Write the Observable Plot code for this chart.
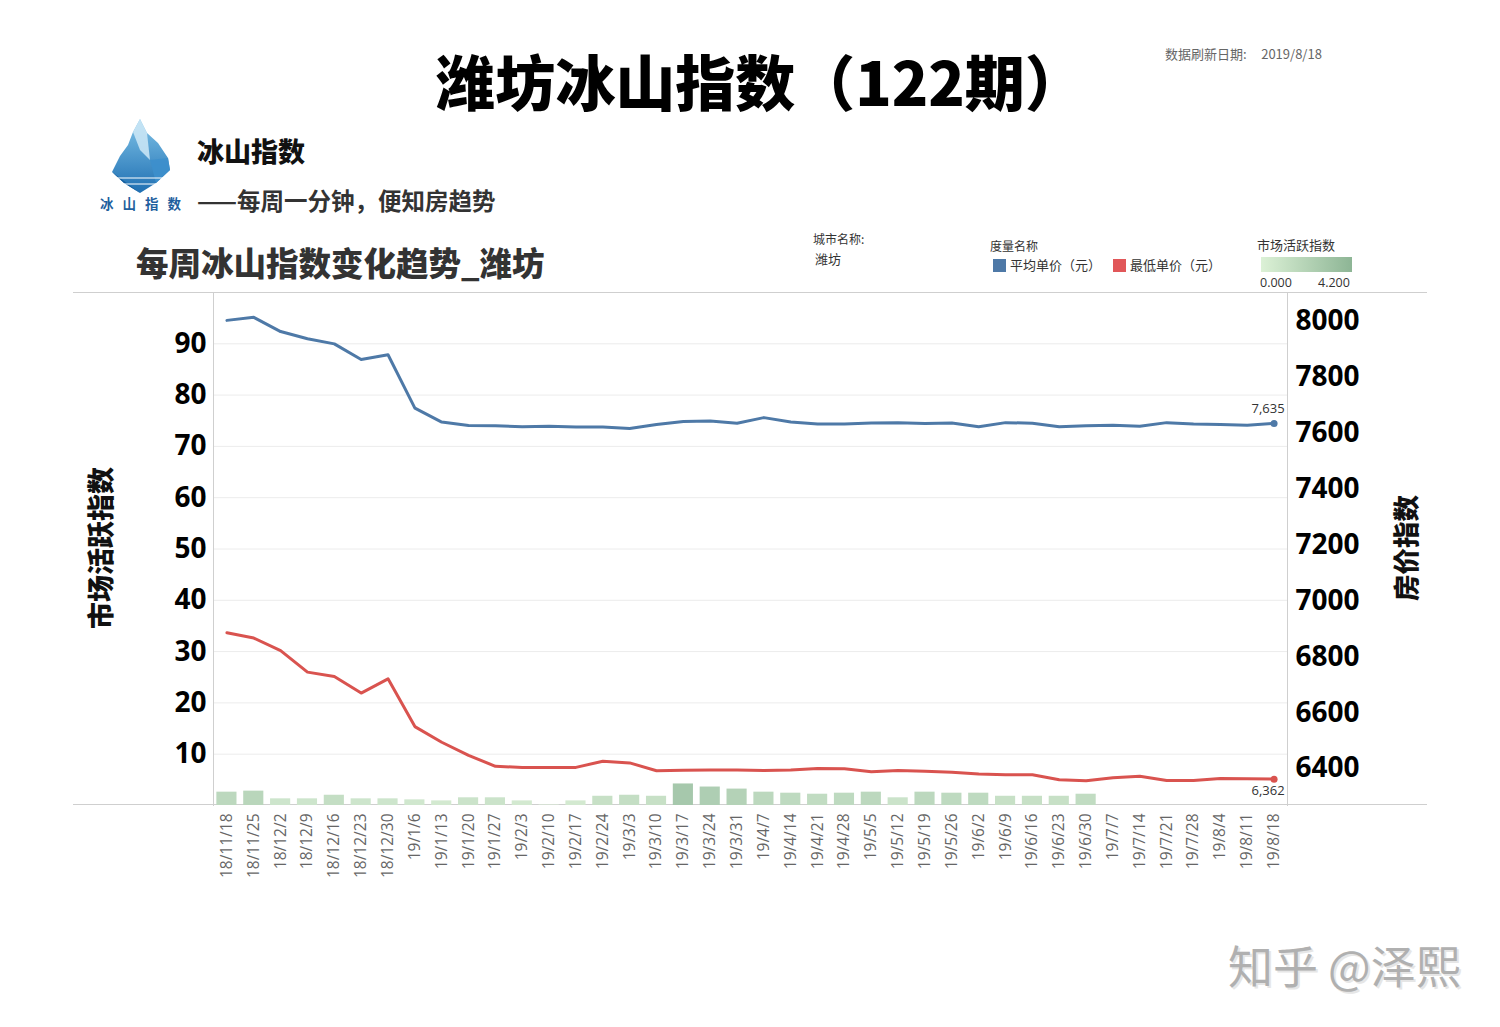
<!DOCTYPE html>
<html>
<head>
<meta charset="utf-8">
<script src="https://cdn.jsdelivr.net/npm/d3@7"></script>
<script src="https://cdn.jsdelivr.net/npm/@observablehq/plot@0.6"></script>
<style>
  html, body { margin: 0; padding: 0; background: #fff; }
  body { width: 1500px; height: 1027px; position: relative; overflow: hidden; font-family: "Noto Sans CJK SC", "Noto Sans", sans-serif; }
  .abs { position: absolute; white-space: nowrap; }
  #chart { position: absolute; left: 0; top: 0; }
</style>
</head>
<body>
<div class="abs" style="left:10px;width:1500px;top:44px;text-align:center;font-size:60px;font-weight:900;line-height:72px;color:#000;">潍坊冰山指数（122期）</div>
<div class="abs" style="left:1165px;top:45px;font-size:13px;color:#666;line-height:18px;">数据刷新日期:&nbsp;&nbsp;&nbsp;&nbsp;&nbsp;2019/8/18</div>

<svg class="abs" style="left:95px;top:112px;" width="100" height="110" viewBox="95 112 100 110">
  <defs>
    <linearGradient id="ice" x1="0" y1="0" x2="0" y2="1">
      <stop offset="0" stop-color="#7fc3e8"/>
      <stop offset="1" stop-color="#1f6fb2"/>
    </linearGradient>
  </defs>
  <polygon points="140,119 147,133 158,143 168,158 170,170 156,183 140,193 124,183 112,172 120,156 128,145 133,132" fill="url(#ice)"/>
  <polygon points="140,119 147,133 150,160 140,150 133,132" fill="#cfe9f7" opacity="0.85"/>
  <polygon points="150,160 168,158 170,170 156,183" fill="#3d8fcc" opacity="0.9"/>
  <polygon points="112,172 140,193 124,183" fill="#155f9e"/>
  <line x1="115" y1="178" x2="166" y2="178" stroke="#fff" stroke-width="1"/>
  <line x1="122" y1="184" x2="158" y2="184" stroke="#fff" stroke-width="1"/>
  <text x="145" y="209" text-anchor="middle" font-size="13.5" font-weight="700" fill="#1f5f9e" letter-spacing="9" font-family="Noto Sans CJK SC">冰山指数</text>
</svg>
<div class="abs" style="left:197px;top:133px;font-size:27px;font-weight:900;color:#111;line-height:36px;">冰山指数</div>
<div class="abs" style="left:197px;top:184px;font-size:23.5px;font-weight:700;color:#333;line-height:32px;">——每周一分钟，便知房趋势</div>

<div class="abs" style="left:136px;top:241px;font-size:32.5px;font-weight:900;color:#333;line-height:42px;">每周冰山指数变化趋势_潍坊</div>

<div class="abs" style="left:813px;top:231px;font-size:12px;color:#333;line-height:16px;">城市名称:</div>
<div class="abs" style="left:815px;top:250px;font-size:13px;color:#333;line-height:18px;">潍坊</div>

<div class="abs" style="left:990px;top:238px;font-size:12px;color:#333;line-height:16px;">度量名称</div>
<div class="abs" style="left:993px;top:259px;width:13px;height:13px;background:#4e79a7;"></div>
<div class="abs" style="left:1010px;top:256px;font-size:13px;color:#333;line-height:18px;">平均单价（元）</div>
<div class="abs" style="left:1113px;top:259px;width:13px;height:13px;background:#e15759;"></div>
<div class="abs" style="left:1130px;top:256px;font-size:13px;color:#333;line-height:18px;">最低单价（元）</div>

<div class="abs" style="left:1257px;top:236px;font-size:13px;color:#333;line-height:17px;">市场活跃指数</div>
<div class="abs" style="left:1261px;top:257px;width:91px;height:15px;background:linear-gradient(to right,#dcf1d6,#8db595);"></div>
<div class="abs" style="left:1260px;top:274px;font-size:12.5px;color:#333;line-height:17px;font-family:'Open Sans',sans-serif;">0.000</div>
<div class="abs" style="left:1318px;top:274px;font-size:12.5px;color:#333;line-height:17px;font-family:'Open Sans',sans-serif;">4.200</div>

<div class="abs" style="left:73px;top:292px;width:1354px;height:1px;background:#cfcfcf;"></div>
<div class="abs" style="left:73px;top:804px;width:1354px;height:1px;background:#cfcfcf;"></div>

<div id="chart"></div>

<div class="abs" style="left:100px;top:548px;transform:translate(-50%,-50%) rotate(-90deg);font-size:27px;font-weight:900;color:#111;line-height:32px;">市场活跃指数</div>
<div class="abs" style="left:1405px;top:548px;transform:translate(-50%,-50%) rotate(-90deg);font-size:26.5px;font-weight:900;color:#111;line-height:32px;">房价指数</div>

<div class="abs" style="left:1228px;top:935px;font-size:45px;color:#b0b0b0;line-height:60px;text-shadow:2px 2px 0 #e6e6e6;">知乎 @泽熙</div>

<script>
const dates = ["18/11/18","18/11/25","18/12/2","18/12/9","18/12/16","18/12/23","18/12/30","19/1/6","19/1/13","19/1/20","19/1/27","19/2/3","19/2/10","19/2/17","19/2/24","19/3/3","19/3/10","19/3/17","19/3/24","19/3/31","19/4/7","19/4/14","19/4/21","19/4/28","19/5/5","19/5/12","19/5/19","19/5/26","19/6/2","19/6/9","19/6/16","19/6/23","19/6/30","19/7/7","19/7/14","19/7/21","19/7/28","19/8/4","19/8/11","19/8/18"];
const avgPrice = [8004,8015,7964,7938,7920,7864,7881,7690,7640,7628,7627,7623,7625,7622,7622,7617,7631,7642,7644,7636,7656,7640,7633,7633,7637,7638,7635,7637,7623,7638,7636,7623,7627,7629,7625,7638,7633,7631,7629,7635];
const minPrice = [6886,6867,6822,6745,6729,6670,6721,6550,6494,6447,6408,6404,6404,6404,6426,6420,6392,6394,6395,6395,6393,6395,6400,6399,6388,6393,6390,6387,6380,6378,6378,6360,6356,6367,6372,6357,6357,6364,6363,6362];
const activity = [2.6,2.8,1.3,1.3,2.0,1.3,1.3,1.1,0.9,1.5,1.5,0.9,0.1,0.9,1.8,2.0,1.8,4.2,3.6,3.2,2.6,2.4,2.2,2.4,2.6,1.5,2.6,2.4,2.4,1.8,1.8,1.8,2.2,null,null,null,null,null,null,null];
const leftTicks = [10,20,30,40,50,60,70,80,90];
const priceTicks = [6400,6600,6800,7000,7200,7400,7600,7800,8000];

const P0 = 6267.6, P1 = 8103.8;
const toLeft = p => (p - P0) / (P1 - P0) * 100;
const fromLeft = v => P0 + v / 100 * (P1 - P0);

const barData = dates.map((d, i) => ({date: d, v: activity[i]})).filter(d => d.v != null);
const avgData = dates.map((d, i) => ({date: d, p: avgPrice[i]}));
const minData = dates.map((d, i) => ({date: d, p: minPrice[i]}));
const lastAvg = avgData.slice(-1);
const lastMin = minData.slice(-1);

const numFont = "'Open Sans', 'Noto Sans', sans-serif";

const chart = Plot.plot({
  width: 1500,
  height: 900,
  marginLeft: 213,
  marginRight: 213,
  marginTop: 292,
  marginBottom: 95,
  style: {background: "transparent", overflow: "visible"},
  x: {type: "band", domain: dates, paddingInner: 0.25, paddingOuter: 0.125, axis: null},
  y: {domain: [0, 100], axis: null},
  color: {type: "linear", domain: [0, 4.2], range: ["#dff2da", "#a6c8ac"]},
  marks: [
    Plot.gridY(leftTicks, {stroke: "#ececec", strokeOpacity: 1}),
    Plot.barY(barData, {x: "date", y: "v", fill: "v"}),
    Plot.line(avgData, {x: "date", y: d => toLeft(d.p), stroke: "#4e79a7", strokeWidth: 3}),
    Plot.line(minData, {x: "date", y: d => toLeft(d.p), stroke: "#d9534f", strokeWidth: 3}),
    Plot.dot(lastAvg, {x: "date", y: d => toLeft(d.p), r: 3.5, fill: "#4e79a7"}),
    Plot.dot(lastMin, {x: "date", y: d => toLeft(d.p), r: 3.5, fill: "#d9534f"}),
    Plot.text(lastAvg, {x: "date", y: d => toLeft(d.p), text: d => d3.format(",")(d.p), dy: -15, dx: -6, fontSize: 13, fill: "#333", fontFamily: numFont}),
    Plot.text(lastMin, {x: "date", y: d => toLeft(d.p), text: d => d3.format(",")(d.p), dy: 12, dx: -6, fontSize: 13, fill: "#333", fontFamily: numFont}),
    Plot.axisY({ticks: leftTicks, tickSize: 0, tickPadding: 7, fontSize: 28, fontWeight: "bold", fill: "#000", fontFamily: numFont, label: null}),
    Plot.axisY({anchor: "right", ticks: priceTicks.map(toLeft), tickFormat: v => String(Math.round(fromLeft(v))), tickSize: 0, tickPadding: 8, fontSize: 28, fontWeight: "bold", fill: "#000", fontFamily: numFont, label: null}),
    Plot.axisX({tickRotate: -90, tickSize: 0, tickPadding: 8, fontSize: 15.5, fill: "#666", fontFamily: numFont, label: null}),
    Plot.frame({anchor: "left", stroke: "#cfcfcf"}),
    Plot.frame({anchor: "right", stroke: "#cfcfcf"})
  ]
});
document.getElementById("chart").appendChild(chart);
</script>
</body>
</html>
